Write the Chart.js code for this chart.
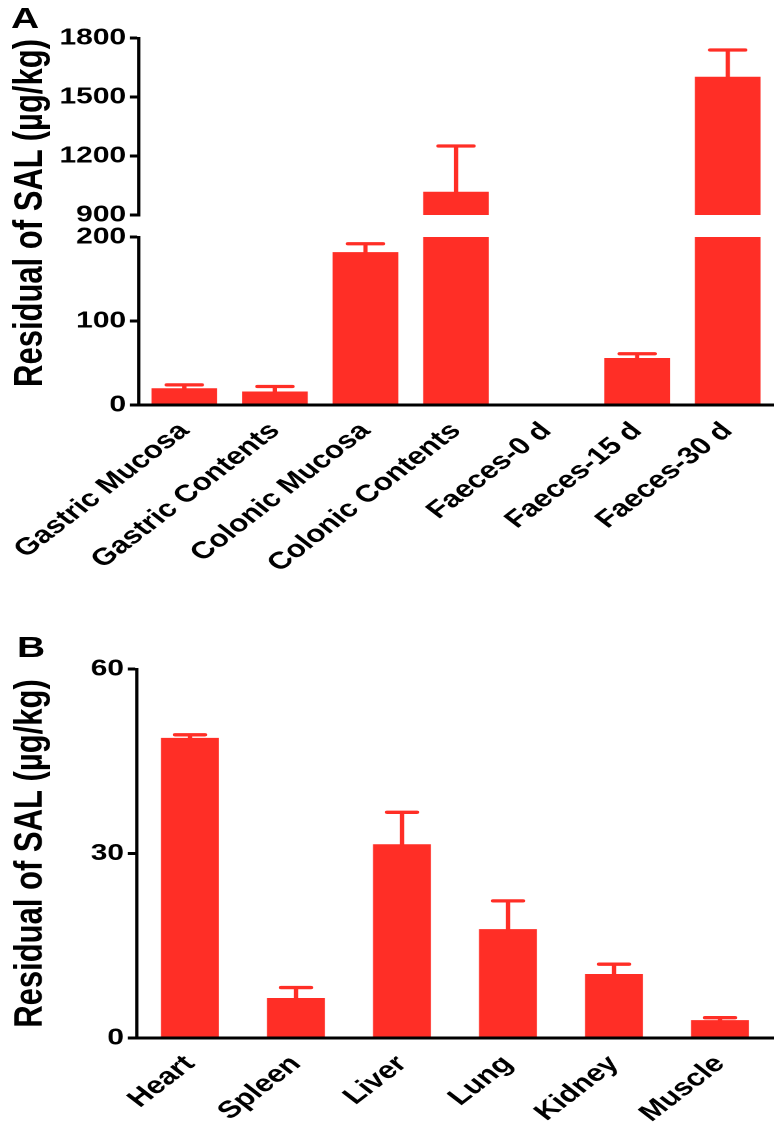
<!DOCTYPE html>
<html><head><meta charset="utf-8">
<script src="https://cdn.jsdelivr.net/npm/chart.js@4.4.1/dist/chart.umd.min.js"></script>
<style>
html,body{margin:0;padding:0;background:#fff;overflow:hidden;}
#stage{position:absolute;left:0;top:0;width:602px;height:1136px;transform:scaleX(1.3007);transform-origin:0 0;}
.box{position:absolute;left:0;width:602px;}
.lbl{position:absolute;font-family:'Liberation Sans',Arial,sans-serif;font-weight:bold;color:#000;line-height:1;white-space:nowrap;}
</style></head><body>
<div id="stage">
  <div class="lbl" style="left:8.5px;top:3px;font-size:30px">A</div>
  <div class="lbl" style="left:13px;top:632px;font-size:30px">B</div>
  <div class="lbl" style="left:21.5px;top:213px;font-size:31px;transform:translate(-50%,-50%) rotate(-90deg)">Residual of SAL (µg/kg)</div>
  <div class="box" style="top:0;height:240px"><canvas id="aTop"></canvas></div>
  <div class="box" style="top:210px;height:430px"><canvas id="aBot"></canvas></div>
  <div class="box" style="top:640px;height:496px"><canvas id="bChart"></canvas></div>
</div>
<script>
// ---- data ----
const categoriesA = ['Gastric Mucosa', 'Gastric Contents', 'Colonic Mucosa', 'Colonic Contents', 'Faeces-0 d', 'Faeces-15 d', 'Faeces-30 d'];
const valuesA = [20, 16, 182, 1018, 0, 56, 1603];
const errorsA = [4, 6, 10, 233, 0, 5, 136];
const ticksUpperA = [900, 1200, 1500, 1800];
const ticksLowerA = [0, 100, 200];

const categoriesB = ['Heart', 'Spleen', 'Liver', 'Lung', 'Kidney', 'Muscle'];
const valuesB = [48.8, 6.5, 31.5, 17.7, 10.4, 2.9];
const errorsB = [0.5, 1.7, 5.2, 4.6, 1.6, 0.4];
const ticksB = [0, 30, 60];

const yTitle = 'Residual of SAL (µg/kg)';
// ---------------

const RED = 'rgb(255,46,38)';
const FONT = "'Liberation Sans', Arial, sans-serif";

const errorBarPlugin = {
  id: 'errorBars',
  afterDatasetsDraw(chart, args, opts) {
    const ds = chart.data.datasets[0];
    const meta = chart.getDatasetMeta(0);
    const ys = chart.scales.y;
    const a = chart.chartArea;
    const ctx = chart.ctx;
    ctx.save();
    ctx.beginPath();
    ctx.rect(a.left, a.top - 1, a.right - a.left, a.bottom - a.top + 1);
    ctx.clip();
    ctx.strokeStyle = RED;
    ctx.lineWidth = opts.width;
    ctx.lineCap = 'round';
    meta.data.forEach((bar, i) => {
      const v = ds.data[i], e = ds.errors[i];
      if (!e) return;
      const y0 = ys.getPixelForValue(v), y1 = ys.getPixelForValue(v + e);
      ctx.beginPath();
      ctx.moveTo(bar.x, y0); ctx.lineTo(bar.x, y1);
      ctx.moveTo(bar.x - opts.cap / 2, y1); ctx.lineTo(bar.x + opts.cap / 2, y1);
      ctx.stroke();
    });
    ctx.restore();
  }
};

function makeChart(id, p) {
  return new Chart(document.getElementById(id), {
    type: 'bar',
    data: {
      labels: p.labels,
      datasets: [{
        data: p.values,
        errors: p.errors,
        backgroundColor: RED,
        borderWidth: 0,
        categoryPercentage: 1,
        barPercentage: p.barPct,
        clip: 0
      }]
    },
    plugins: [errorBarPlugin],
    options: {
      responsive: true,
      maintainAspectRatio: false,
      devicePixelRatio: 2,
      animation: false,
      layout: { padding: p.padding },
      plugins: {
        legend: { display: false },
        tooltip: { enabled: false },
        errorBars: { width: 3.3, cap: p.cap }
      },
      scales: {
        x: {
          display: p.showX,
          grid: { display: false },
          border: { display: true, color: '#000', width: 3 },
          ticks: {
            color: '#000', font: { family: FONT, size: 24, weight: 'bold' },
            minRotation: 45, maxRotation: 45, autoSkip: false, padding: 4
          },
          afterFit(s) { if (p.xHeight) s.height = p.xHeight; }
        },
        y: {
          min: p.min, max: p.max,
          afterBuildTicks(s) { s.ticks = p.ticks.map(v => ({ value: v })); },
          afterFit(s) { s.width = p.yWidth; },
          grid: { drawOnChartArea: false, drawTicks: true, tickLength: 7, color: '#000', lineWidth: 3 },
          border: { display: true, color: '#000', width: 2.4 },
          ticks: { color: '#000', font: { family: FONT, size: 23, weight: 'bold' }, padding: 3, callback: v => String(v) },
          title: p.title ? { display: true, text: p.title, color: '#000', font: { family: FONT, size: 31, weight: 'bold' }, padding: { top: 5, bottom: 0 } } : { display: false }
        }
      }
    }
  });
}

makeChart('aTop', {
  labels: categoriesA, values: valuesA, errors: errorsA, barPct: 0.725, cap: 27,
  padding: { top: 38, bottom: 25, left: 0, right: 7.7 },
  showX: false, min: 900, max: 1800, ticks: ticksUpperA, yWidth: 106.9
});
makeChart('aBot', {
  labels: categoriesA, values: valuesA, errors: errorsA, barPct: 0.725, cap: 27,
  padding: { top: 27, bottom: 0, left: 0, right: 7.7 },
  showX: true, xHeight: 235, min: 0, max: 200, ticks: ticksLowerA, yWidth: 106.9
});
makeChart('bChart', {
  labels: categoriesB, values: valuesB, errors: errorsB, barPct: 0.547, cap: 23,
  padding: { top: 29, bottom: 0, left: 0, right: 7.7 },
  showX: true, xHeight: 98, min: 0, max: 60, ticks: ticksB, yWidth: 105.3, title: yTitle
});
</script>
</body></html>
